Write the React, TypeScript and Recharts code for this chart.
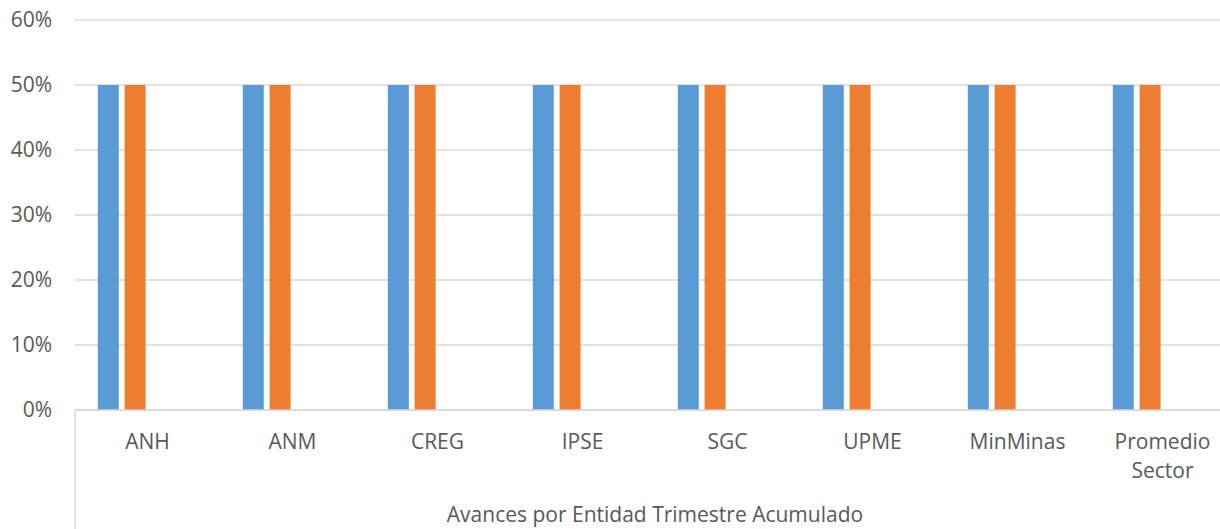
import { BarChart, Bar, XAxis, YAxis, CartesianGrid } from 'recharts';

const entidades = ['ANH', 'ANM', 'CREG', 'IPSE', 'SGC', 'UPME', 'MinMinas', 'Promedio Sector'];
const serie1 = [0.5, 0.5, 0.5, 0.5, 0.5, 0.5, 0.5, 0.5];
const serie2 = [0.5, 0.5, 0.5, 0.5, 0.5, 0.5, 0.5, 0.5];
const serie3 = [0, 0, 0, 0, 0, 0, 0, 0];
const serie4 = [0, 0, 0, 0, 0, 0, 0, 0];
const yTicks = [0, 0.1, 0.2, 0.3, 0.4, 0.5, 0.6];
const axisTitle = 'Avances por Entidad Trimestre Acumulado';

const data = entidades.map((name, i) => ({
  name,
  s1: serie1[i],
  s2: serie2[i],
  s3: serie3[i],
  s4: serie4[i],
}));

const FONT = '"Open Sans", sans-serif';
const TEXT = '#595959';
const LINE = '#d9d9d9';

function CategoryTick({ x, y, payload, index }: any) {
  const words = String(payload.value).split(' ');
  const lines = words.length > 1 ? words : [payload.value];
  return (
    <g>
      {index === 0 && (
        <line
          x1={x - payload.offset}
          x2={x - payload.offset}
          y1={y}
          y2={y + 125}
          stroke={LINE}
          strokeWidth={1.5}
        />
      )}
      <text x={x} y={y + 39} textAnchor="middle" fill={TEXT} fontSize={21} fontFamily={FONT}>
        {lines.map((l: string, i: number) => (
          <tspan key={i} x={x} dy={i === 0 ? 0 : 29.3}>
            {l}
          </tspan>
        ))}
      </text>
    </g>
  );
}

export default function App() {
  return (
    <div
      style={{
        position: 'absolute',
        left: 0,
        top: 0,
        width: 1220,
        height: 529,
        overflow: 'hidden',
        background: '#fff',
      }}
    >
      <BarChart
        width={1236}
        height={529}
        data={data}
        margin={{ top: 20, right: 1, left: 0, bottom: 0 }}
        barCategoryGap={22.8}
        barGap={5.8}
      >
        <CartesianGrid vertical={false} stroke={LINE} strokeWidth={1.5} />
        <XAxis
          dataKey="name"
          height={119}
          tickLine={false}
          tickSize={0}
          tickMargin={0}
          interval={0}
          axisLine={{ stroke: LINE, strokeWidth: 1.5 }}
          tick={<CategoryTick />}
          label={{
            value: axisTitle,
            position: 'insideBottom',
            offset: 7,
            fill: TEXT,
            fontSize: 21,
            fontFamily: FONT,
          }}
        />
        <YAxis
          width={75}
          domain={[0, 0.6]}
          ticks={yTicks}
          tickFormatter={(v: number) => `${Math.round(v * 100)}%`}
          axisLine={false}
          tickLine={false}
          tickSize={0}
          tickMargin={23}
          tick={{ fill: TEXT, fontSize: 21, fontFamily: FONT }}
        />
        <Bar dataKey="s1" fill="#5B9BD5" isAnimationActive={false} />
        <Bar dataKey="s2" fill="#ED7D31" isAnimationActive={false} />
        <Bar dataKey="s3" fill="#A5A5A5" isAnimationActive={false} />
        <Bar dataKey="s4" fill="#FFC000" isAnimationActive={false} />
      </BarChart>
    </div>
  );
}
